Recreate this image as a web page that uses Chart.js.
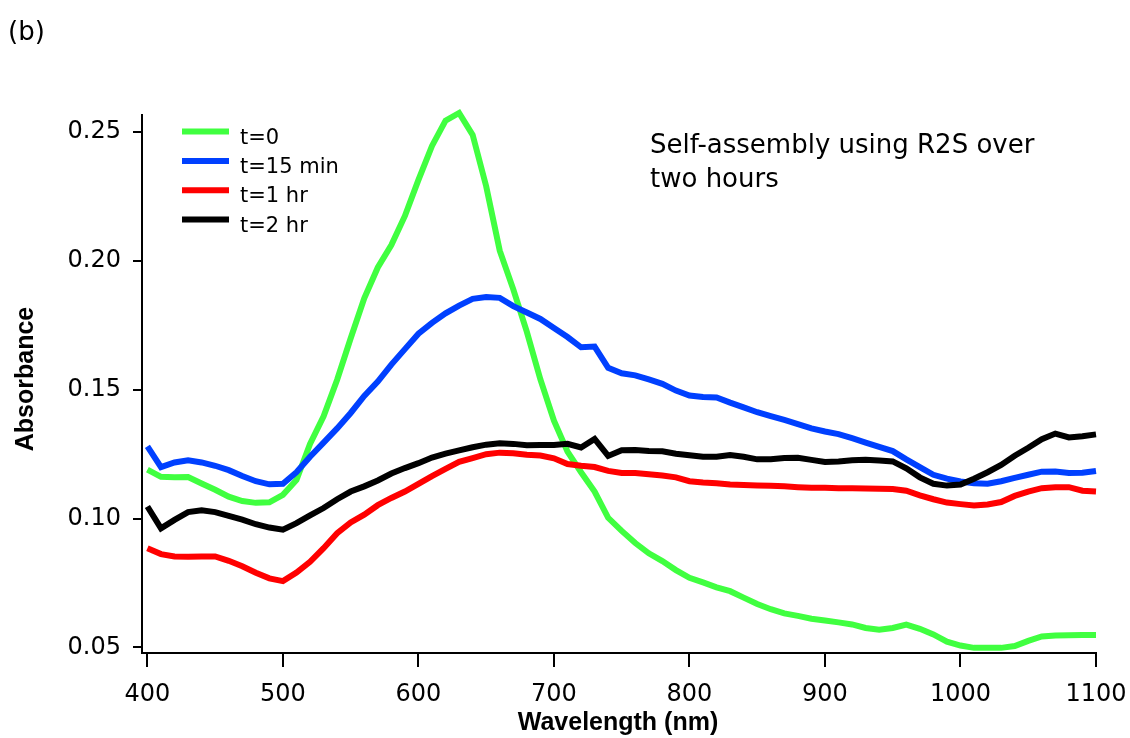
<!DOCTYPE html>
<html>
<head>
<meta charset="utf-8">
<script src="https://cdn.jsdelivr.net/npm/chart.js@4.4.1/dist/chart.umd.min.js"></script>
<style>
  body { margin: 0; background: #fff; }
</style>
</head>
<body>
<canvas id="absChart" width="1130" height="738"></canvas>
<script>
// wavelength grid (nm)
const wavelengths = [
  400, 410, 420, 430, 440, 450, 460, 470, 480, 490,
  500, 510, 520, 530, 540, 550, 560, 570, 580, 590,
  600, 610, 620, 630, 640, 650, 660, 670, 680, 690,
  700, 710, 720, 730, 740, 750, 760, 770, 780, 790,
  800, 810, 820, 830, 840, 850, 860, 870, 880, 890,
  900, 910, 920, 930, 940, 950, 960, 970, 980, 990,
  1000, 1010, 1020, 1030, 1040, 1050, 1060, 1070, 1080, 1090,
  1100
];

const seriesNames = ['t=0', 't=15 min', 't=1 hr', 't=2 hr'];
const seriesColors = ['#40ff40', '#0040ff', '#ff0000', '#000000'];

// absorbance
const absT0 = [
  0.1190, 0.1162, 0.1160, 0.1161, 0.1136, 0.1112, 0.1085, 0.1068, 0.1061, 0.1063,
  0.1092, 0.1150, 0.1290, 0.1397, 0.1539, 0.1700, 0.1855, 0.1975, 0.2062, 0.2175,
  0.2315, 0.2447, 0.2545, 0.2575, 0.2490, 0.2290, 0.2040, 0.1890, 0.1725, 0.1540,
  0.1380, 0.1260, 0.1180, 0.1105, 0.1003, 0.0952, 0.0905, 0.0865, 0.0835, 0.0800,
  0.0770, 0.0752, 0.0733, 0.0718, 0.0693, 0.0668, 0.0648, 0.0632, 0.0622, 0.0611,
  0.0604, 0.0597, 0.0589, 0.0575, 0.0568, 0.0575, 0.0588, 0.0572, 0.0550, 0.0522,
  0.0507, 0.0498, 0.0498, 0.0498, 0.0505, 0.0525, 0.0542, 0.0546, 0.0547, 0.0548,
  0.0548
];
const absT15 = [
  0.1280, 0.1200, 0.1218, 0.1226, 0.1218, 0.1205, 0.1188, 0.1165, 0.1145, 0.1133,
  0.1135, 0.1180, 0.1240, 0.1295, 0.1350, 0.1410, 0.1476, 0.1532, 0.1598, 0.1658,
  0.1718, 0.1760, 0.1797, 0.1827, 0.1853, 0.1860, 0.1857, 0.1825, 0.1800, 0.1775,
  0.1740, 0.1705, 0.1665, 0.1668, 0.1585, 0.1564, 0.1556, 0.1540, 0.1523, 0.1497,
  0.1478, 0.1472, 0.1470, 0.1450, 0.1432, 0.1413, 0.1398, 0.1383, 0.1367, 0.1350,
  0.1338, 0.1328, 0.1312, 0.1295, 0.1278, 0.1262, 0.1230, 0.1200, 0.1170, 0.1155,
  0.1144, 0.1137, 0.1135, 0.1145, 0.1158, 0.1170, 0.1182, 0.1183, 0.1177, 0.1178,
  0.1185
];
const absT1h = [
  0.0885, 0.0862, 0.0853, 0.0852, 0.0853, 0.0853, 0.0836, 0.0815, 0.0790, 0.0768,
  0.0757, 0.0790, 0.0832, 0.0885, 0.0943, 0.0985, 0.1015, 0.1052, 0.1080, 0.1105,
  0.1135, 0.1165, 0.1193, 0.1220, 0.1235, 0.1250, 0.1256, 0.1254, 0.1248, 0.1245,
  0.1234, 0.1212, 0.1205, 0.1200, 0.1185, 0.1177, 0.1177, 0.1172, 0.1167, 0.1160,
  0.1145, 0.1140, 0.1137, 0.1132, 0.1130, 0.1128, 0.1127, 0.1125, 0.1122, 0.1120,
  0.1120, 0.1118, 0.1118, 0.1117, 0.1116, 0.1115, 0.1108, 0.1090, 0.1075, 0.1062,
  0.1056, 0.1051, 0.1055, 0.1064, 0.1088, 0.1105, 0.1118, 0.1122, 0.1122, 0.1108,
  0.1105
];
const absT2h = [
  0.1047, 0.0962, 0.0995, 0.1025, 0.1032, 0.1025, 0.1010, 0.0996, 0.0978, 0.0965,
  0.0957, 0.0982, 0.1012, 0.1041, 0.1075, 0.1105, 0.1125, 0.1148, 0.1175, 0.1196,
  0.1215, 0.1237, 0.1252, 0.1265, 0.1277, 0.1287, 0.1292, 0.1290, 0.1285, 0.1286,
  0.1286, 0.1290, 0.1276, 0.1309, 0.1243, 0.1265, 0.1266, 0.1262, 0.1261, 0.1252,
  0.1246, 0.1240, 0.1240, 0.1247, 0.1240, 0.1230, 0.1230, 0.1235, 0.1236, 0.1228,
  0.1220, 0.1222, 0.1226, 0.1228, 0.1225, 0.1222, 0.1195, 0.1160, 0.1135, 0.1128,
  0.1132, 0.1155, 0.1180, 0.1208, 0.1244, 0.1275, 0.1308, 0.1330, 0.1315, 0.1320,
  0.1327
];

const xTicks = [400, 500, 600, 700, 800, 900, 1000, 1100];
const yTicks = [0.05, 0.10, 0.15, 0.20, 0.25];

const allSeries = [absT0, absT15, absT1h, absT2h];

function toPoints(vals) {
  return wavelengths.map((w, i) => ({ x: w, y: vals[i] }));
}

const datasets = allSeries.map((vals, i) => ({
  label: seriesNames[i],
  data: toPoints(vals),
  borderColor: seriesColors[i],
  backgroundColor: seriesColors[i],
  borderWidth: 6,
  pointRadius: 0,
  tension: 0,
  fill: false,
  clip: false,
  order: allSeries.length - 1 - i // later traces on top, like the original
}));

// text that is not part of the axes: legend, note, panel label, axis titles
const extrasPlugin = {
  id: 'extras',
  afterDraw(chart) {
    const ctx = chart.ctx;
    ctx.save();
    ctx.fillStyle = '#000';

    // panel label
    ctx.font = '26px "DejaVu Sans"';
    ctx.textAlign = 'left';
    ctx.textBaseline = 'alphabetic';
    ctx.fillText('(b)', 8, 40);

    // note
    ctx.fillText('Self-assembly using R2S over', 650, 153);
    ctx.fillText('two hours', 650, 187);

    // legend
    ctx.font = '21px "DejaVu Sans"';
    const legendY = [131.5, 161, 190.3, 219.5];
    chart.data.datasets.forEach((ds, i) => {
      ctx.strokeStyle = ds.borderColor;
      ctx.lineWidth = 6;
      ctx.beginPath();
      ctx.moveTo(182, legendY[i]);
      ctx.lineTo(229, legendY[i]);
      ctx.stroke();
      ctx.fillStyle = '#000';
      ctx.fillText(ds.label, 240, legendY[i] + 12);
    });

    // axis titles
    ctx.font = 'bold 25px "Liberation Sans"';
    ctx.textAlign = 'center';
    ctx.fillText('Wavelength (nm)', 618, 730);
    ctx.translate(33, 379);
    ctx.rotate(-Math.PI / 2);
    ctx.fillText('Absorbance', 0, 0);
    ctx.restore();
  }
};

new Chart(document.getElementById('absChart'), {
  type: 'line',
  data: { datasets: datasets },
  options: {
    responsive: false,
    animation: false,
    layout: { padding: { left: 0, right: 34, top: 115, bottom: 0 } },
    plugins: {
      legend: { display: false },
      tooltip: { enabled: false }
    },
    scales: {
      x: {
        type: 'linear',
        min: 396,
        max: 1100,
        afterBuildTicks: (scale) => { scale.ticks = xTicks.map(v => ({ value: v })); },
        afterFit: (scale) => {
          scale.height = 85;
          scale.paddingLeft = 0;
          scale.paddingRight = 0;
        },
        grid: { drawOnChartArea: false, drawTicks: true, tickLength: 14, color: '#000', lineWidth: 2 },
        border: { display: true, color: '#000', width: 2 },
        ticks: {
          color: '#000',
          font: { family: 'DejaVu Sans', size: 24 },
          padding: 13,
          maxRotation: 0,
          callback: (v) => String(v)
        }
      },
      y: {
        type: 'linear',
        min: 0.0478,
        max: 0.2567,
        afterBuildTicks: (scale) => { scale.ticks = yTicks.map(v => ({ value: v })); },
        afterFit: (scale) => {
          scale.width = 142;
          scale.paddingTop = 0;
          scale.paddingBottom = 0;
        },
        grid: { drawOnChartArea: false, drawTicks: true, tickLength: 9, color: '#000', lineWidth: 2 },
        border: { display: true, color: '#000', width: 2 },
        ticks: {
          color: '#000',
          font: { family: 'DejaVu Sans', size: 24 },
          padding: 12,
          callback: (v) => v.toFixed(2)
        }
      }
    }
  },
  plugins: [extrasPlugin]
});
</script>
</body>
</html>
